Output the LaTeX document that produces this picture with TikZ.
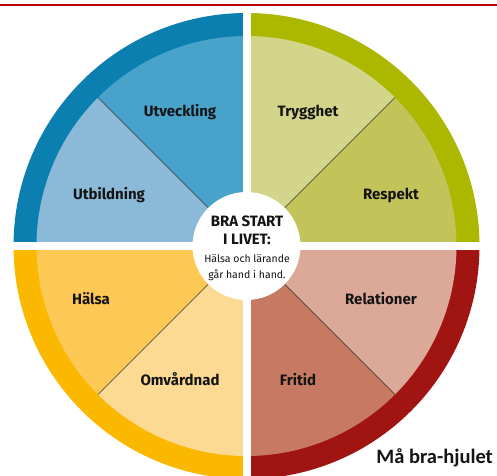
\documentclass[tikz,border=0pt]{standalone}
\usepackage{fontspec}
\setmainfont{Fira Sans}
\newfontfamily\calib{Carlito}
\definecolor{ringblue}{HTML}{0A7FB0}
\definecolor{utvc}{HTML}{48A2CA}
\definecolor{utbc}{HTML}{8BBAD9}
\definecolor{ringolive}{HTML}{ACB800}
\definecolor{tryc}{HTML}{D2D58A}
\definecolor{resc}{HTML}{C2C45A}
\definecolor{ringred}{HTML}{A01512}
\definecolor{relc}{HTML}{DCA897}
\definecolor{fric}{HTML}{C77962}
\definecolor{ringyel}{HTML}{FBB800}
\definecolor{halc}{HTML}{FEC855}
\definecolor{omvc}{HTML}{FDDA93}
\definecolor{topred}{HTML}{C00000}
\definecolor{txt}{HTML}{141414}
\tikzset{
  lbl/.style={anchor=base, font=\bfseries\fontsize{15}{18}\selectfont, text=txt, inner sep=0pt},
  hubbig/.style={anchor=base, font=\bfseries\fontsize{15}{18}\selectfont, text=txt, inner sep=0pt},
  hubsmall/.style={anchor=base, font=\fontsize{10.5}{13}\selectfont, text=txt, inner sep=0pt},
  diag/.style={draw=black!80, line width=0.6pt},
}
\begin{document}
\begin{tikzpicture}[x=1pt,y=1pt]
\useasboundingbox (0,0) rectangle (497,475);
\clip (0,0) rectangle (497,475);
\coordinate (c) at (246.5,229);
% outer rings
\fill[ringblue]  (c) -- ++(90:233)  arc (90:180:233)  -- cycle;
\fill[ringolive] (c) -- ++(0:233)   arc (0:90:233)    -- cycle;
\fill[ringred]   (c) -- ++(270:233) arc (270:360:233) -- cycle;
\fill[ringyel]   (c) -- ++(180:233) arc (180:270:233) -- cycle;
% inner sectors
\fill[utvc] (c) -- ++(90:210)  arc (90:135:210)  -- cycle;
\fill[utbc] (c) -- ++(135:210) arc (135:180:210) -- cycle;
\fill[tryc] (c) -- ++(45:210)  arc (45:90:210)   -- cycle;
\fill[resc] (c) -- ++(0:210)   arc (0:45:210)    -- cycle;
\fill[relc] (c) -- ++(315:210) arc (315:360:210) -- cycle;
\fill[fric] (c) -- ++(270:210) arc (270:315:210) -- cycle;
\fill[halc] (c) -- ++(180:210) arc (180:225:210) -- cycle;
\fill[omvc] (c) -- ++(225:210) arc (225:270:210) -- cycle;
% diagonals
\foreach \a/\n in {45/ne,135/nw,225/sw,315/se}{
  \path (c) ++(\a:54) coordinate (\n i);
  \path (c) ++(\a:210) coordinate (\n o);
  \draw[diag] (\n i) -- (\n o);
}
% gaps
\fill[white] ([shift={(-4,-240)}]c) rectangle ([shift={(4,240)}]c);
\fill[white] ([shift={(-240,-4)}]c) rectangle ([shift={(240,4)}]c);
% hub
\node[circle, fill=white, minimum size=108pt, inner sep=0pt] (hub) at (c) {};
\node[hubbig]   (h1) at (247,249) {BRA START};
\node[hubbig]   (h2) at (247,231) {I LIVET:};
\node[hubsmall] (h3) at (247,213) {Hälsa och lärande};
\node[hubsmall] (h4) at (247,197) {går hand i hand.};
% labels
\node[lbl] (utv) at (180,359) {Utveckling};
\node[lbl] (try) at (308,359) {Trygghet};
\node[lbl] (utb) at (109,276) {Utbildning};
\node[lbl] (res) at (391,276) {Respekt};
\node[lbl] (hal) at (91,171) {Hälsa};
\node[lbl] (rel) at (381,171) {Relationer};
\node[lbl] (omv) at (180,90) {Omvårdnad};
\node[lbl] (fri) at (298,90) {Fritid};
% top rule
\fill[topred] (0,468.5) rectangle (497,471);
% caption
\node[anchor=base east, inner sep=0pt, font=\calib\bfseries\fontsize{20.5}{24}\selectfont, text=txt] (cap) at (493,12) {Må bra-hjulet};
\end{tikzpicture}
\end{document}
